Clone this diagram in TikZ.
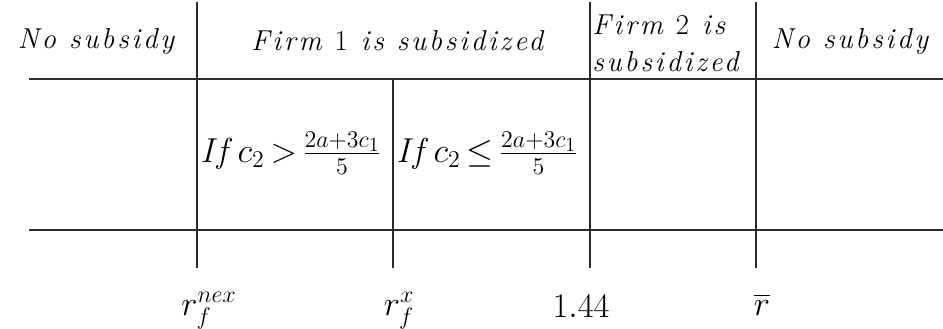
\documentclass[tikz,border=0pt]{standalone}
\usepackage{amsmath}
\usepackage{fontspec}
\usepackage{tikz}
\usetikzlibrary{positioning}
\definecolor{GridGray}{HTML}{2B2B2B}
\newfontfamily\spacedit[LetterSpace=10]{Latin Modern Roman}
\newcommand\condfont{\huge\thickmuskip=3mu\relax}
\tikzset{
  % Grid rules
  rule/.style={draw=GridGray,line width=0.8pt},
  % Column headers
  head/.style={font=\LARGE\spacedit\itshape,inner sep=0pt,anchor=base},
  % Conditions in the middle row
  cond/.style={font=\condfont,inner sep=0pt,anchor=west},
  % Values under the axis
  tick/.style={font=\huge,inner sep=0pt,anchor=base}
}
\begin{document}
\begin{tikzpicture}[x=0.6pt,y=-0.6pt]
  \useasboundingbox (0,0) rectangle (943,328);

  % grid
  \draw[rule](29,79)--(943,79);
  \draw[rule](29,230)--(943,230);
  \draw[rule](197,2)--(197,268);
  \draw[rule](393,79)--(393,268);
  \draw[rule](590,2)--(590,268);
  \draw[rule](756,2)--(756,268);

  % headers
  \node[head]                                (nosubL)  at (96,48)  {No subsidy};
  \node[head]                                (firmone) at (397,50) {Firm {\upshape 1} is subsidized};
  \node[head,anchor=north west,align=left]   (firmtwo) at (592,15) {Firm {\upshape 2} is\\subsidized};
  \node[head]                                (nosubR)  at (850,48) {No subsidy};

  % conditions
  \node[cond](ifgt) at (200,153) {{\spacedit\itshape If} $c_2>\frac{2a+3c_1}{5}$};
  \node[cond](ifle) at (396,153) {{\spacedit\itshape If} $c_2\le\frac{2a+3c_1}{5}$};

  % values
  \node[tick](rnex)   at (209,315) {$r_f^{nex}$};
  \node[tick](rx)     at (399,315) {$r_f^{x}$};
  \node[tick](thresh) at (581,317) {$1.44$};
  \node[tick](rbar)   at (762,315) {$\overline{r}$};
\end{tikzpicture}
\end{document}
